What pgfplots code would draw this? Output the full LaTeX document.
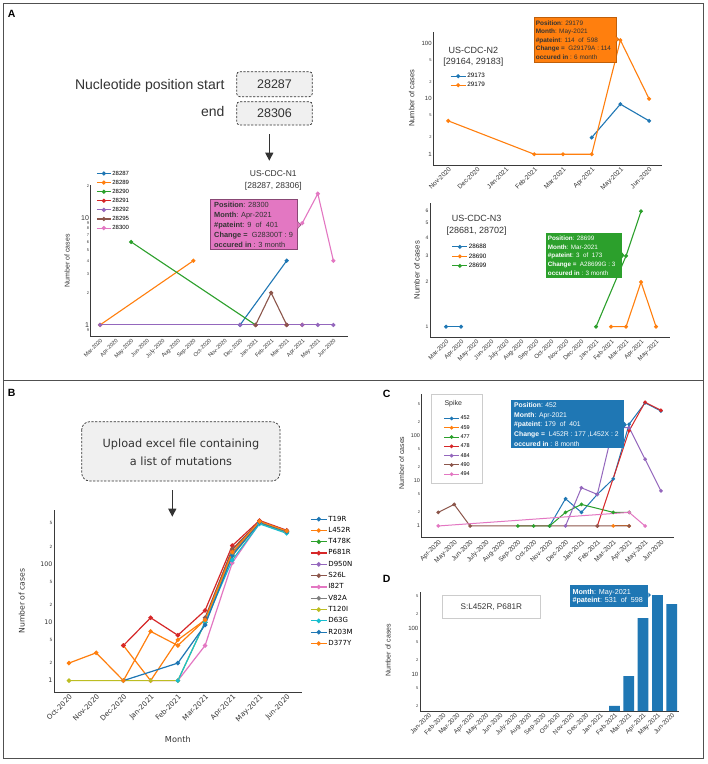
\documentclass[border=0pt]{standalone}
\usepackage{fontspec}
\setmainfont{Liberation Sans}
\newfontfamily\dejavu{DejaVu Sans}
\usepackage{pgfplots}
\pgfplotsset{compat=1.18}
\usetikzlibrary{arrows.meta}
\definecolor{tb}{HTML}{1F77B4}
\definecolor{to}{HTML}{FF7F0E}
\definecolor{tg}{HTML}{2CA02C}
\definecolor{tr}{HTML}{D62728}
\definecolor{tp}{HTML}{9467BD}
\definecolor{tbr}{HTML}{8C564B}
\definecolor{tpk}{HTML}{E377C2}
\definecolor{tgy}{HTML}{7F7F7F}
\definecolor{tol}{HTML}{BCBD22}
\definecolor{tc}{HTML}{17BECF}
\definecolor{framec}{HTML}{505050}
\definecolor{spinec}{HTML}{3A3A3A}
\definecolor{boxfill}{HTML}{F0F0F0}
\definecolor{txtdark}{HTML}{333333}
\definecolor{legframe}{HTML}{CCCCCC}
\newcommand{\fs}[2]{\fontsize{#1}{#2}\selectfont}
\begin{document}
\begin{tikzpicture}
\useasboundingbox (0pt,0pt) rectangle (708pt,-764pt);
\fill[white] (0pt,0pt) rectangle (708pt,-764pt);
% frames
\draw[framec, line width=1pt] (3.3pt,-3.3pt) rectangle (703.8pt,-758.5pt);
\draw[framec, line width=1pt] (3.3pt,-380.8pt) -- (703.8pt,-380.8pt);
% panel letters
\node[font=\bfseries\fs{10.5}{10.5}] at (11.7pt,-14pt) {A};
\node[font=\bfseries\fs{10.5}{10.5}] at (11.7pt,-393.3pt) {B};
\node[font=\bfseries\fs{10.5}{10.5}] at (386.7pt,-394pt) {C};
\node[font=\bfseries\fs{10.5}{10.5}] at (386.7pt,-579.3pt) {D};

% ===== Panel A header =====
\node[anchor=east, font=\fs{14}{14}, text=txtdark] at (228pt,-86pt) {Nucleotide position start};
\node[anchor=east, font=\fs{14}{14}, text=txtdark] at (228pt,-111pt) {end};
\draw[dash pattern=on 2.2pt off 1.5pt, rounded corners=3pt, fill=boxfill, draw=txtdark, line width=0.7pt] (236.7pt,-71.7pt) rectangle (312.3pt,-96.7pt);
\draw[dash pattern=on 2.2pt off 1.5pt, rounded corners=3pt, fill=boxfill, draw=txtdark, line width=0.7pt] (236.7pt,-101.7pt) rectangle (312.3pt,-125pt);
\node[font=\fs{12.5}{12.5}, text=txtdark] at (274.5pt,-84.2pt) {28287};
\node[font=\fs{12.5}{12.5}, text=txtdark] at (274.5pt,-113.3pt) {28306};
\draw[-{Triangle[length=8pt,width=8pt]}, line width=1.3pt, txtdark] (269.3pt,-134.3pt) -- (269.3pt,-160.7pt);

% ===== A: US-CDC-N1 =====
\begin{axis}[scale only axis, anchor=south west, ymode=log,
  axis x line*=bottom, axis y line*=left,
  axis line style={-, spinec, line width=0.7pt},
  major tick length=0pt, minor tick length=0pt, clip=false,
  xticklabel style={rotate=45, anchor=north east, inner sep=1pt, text=txtdark, font=\fs{5.5}{5.5}},
  yticklabel style={inner sep=1.5pt, text=txtdark, font=\fs{7}{7}},
  at={(90.7pt,-336.7pt)}, width=257.3pt, height=151.7pt,
  xmin=-0.6, xmax=15.94, ymin=0.776, ymax=20.5,
  xtick={0,...,15},
  xticklabels={Mar-2020,Apr-2020,May-2020,Jun-2020,July-2020,Aug-2020,Sep-2020,Oct-2020,Nov-2020,Dec-2020,Jan-2021,Feb-2021,Mar-2021,Apr-2021,May-2021,Jun-2020},
  ytick={1,10}, yticklabels={1,10},
  extra y ticks={0.9,2,3,4,5,6,7,8,9,20}, extra y tick labels={9,2,3,4,5,6,7,8,9,2},
  extra y tick style={yticklabel style={font=\fs{4}{4}}},
  ylabel={Number of cases}, ylabel style={at={(axis description cs:-0.092,0.5)}, anchor=center, text=txtdark, font=\fs{7}{7}},
  every axis plot/.append style={mark=*, line width=1.1pt, mark size=1.5pt},
  legend cell align=left,
  legend image code/.code={\draw[mark repeat=2,mark phase=2,#1] plot coordinates {(0pt,0pt) (7pt,0pt) (14pt,0pt)};},
  legend style={draw=none, fill=none, at={(0.021,1.102)}, anchor=north west, inner sep=0pt,
    font=\fs{6}{6}, row sep=1.6pt, nodes={inner sep=1pt, text height=4.3pt, text depth=1.2pt}},
  legend entries={28287,28289,28290,28291,28292,28295,28300},
]
\addplot[color=tb] coordinates {(9,1) (12,4)};
\addplot[color=to] coordinates {(0,1) (6,4)};
\addplot[color=tg] coordinates {(2,6) (10,1)};
\addplot[color=tr] coordinates {(10,1) (12,1) (13,1)};
\addplot[color=tp] coordinates {(0,1) (9,1) (10,1) (12,1) (13,1) (14,1) (15,1)};
\addplot[color=tbr] coordinates {(10,1) (11,2) (12,1)};
\addplot[color=tpk] coordinates {(13,9) (14,17) (15,4)};
\end{axis}
\node[align=center, font=\fs{8.5}{12}, text=txtdark] at (273.3pt,-180pt) {US-CDC-N1\\{[28287, 28306]}};
\filldraw[fill=tpk, draw=tpk!60!black, line width=0.4pt] (210pt,-199pt) rectangle (297.3pt,-249.5pt);
\filldraw[fill=tpk, draw=tpk!60!black, line width=0.4pt] (297.3pt,-221pt) -- (301pt,-225pt) -- (297.3pt,-229pt);
\node[anchor=north west, inner sep=0pt, align=left, font=\fs{7.4}{10}, text=txtdark] at (214pt,-201.6pt)
 {\textbf{Position}: 28300\\\textbf{Month}: Apr-2021\\\textbf{\#pateint}: 9~~of~~401\\\textbf{Change =}~~G28300T : 9\\\textbf{occured in} : 3 month};

% ===== A: US-CDC-N2 =====
\begin{axis}[scale only axis, anchor=south west, ymode=log,
  axis x line*=bottom, axis y line*=left,
  axis line style={-, spinec, line width=0.7pt},
  major tick length=0pt, minor tick length=0pt, clip=false,
  xticklabel style={rotate=45, anchor=north east, inner sep=1pt, text=txtdark, font=\fs{6.5}{6.5}},
  yticklabel style={inner sep=1.5pt, text=txtdark, font=\fs{6}{6}},
  at={(433.3pt,-165pt)}, width=228.4pt, height=133.3pt,
  xmin=-0.52, xmax=7.44, ymin=0.64, ymax=162,
  xtick={0,...,7},
  xticklabels={Nov-2020,Dec-2020,Jan-2021,Feb-2021,Mar-2021,Apr-2021,May-2021,Jun-2020},
  ytick={1,10,100}, yticklabels={1,10,100},
  extra y ticks={2,5,20,50}, extra y tick labels={2,5,2,5},
  extra y tick style={yticklabel style={font=\fs{4}{4}}},
  ylabel={Number of cases}, ylabel style={at={(axis description cs:-0.095,0.5)}, anchor=center, text=txtdark, font=\fs{7.5}{7.5}},
  every axis plot/.append style={mark=*, line width=1.1pt, mark size=1.4pt},
  legend cell align=left,
  legend image code/.code={\draw[mark repeat=2,mark phase=2,#1] plot coordinates {(0pt,0pt) (7.5pt,0pt) (15pt,0pt)};},
  legend style={draw=none, fill=none, at={(0.073,0.697)}, anchor=north west, inner sep=0pt,
    font=\fs{6.3}{6.3}, row sep=1.2pt, nodes={inner sep=1pt, text height=4.5pt, text depth=1.3pt}},
  legend entries={29173,29179},
]
\addplot[color=tb] coordinates {(5,2) (6,8) (7,4)};
\addplot[color=to] coordinates {(0,4) (3,1) (4,1) (5,1) (6,114) (7,10)};
\end{axis}
\node[align=center, font=\fs{9}{11}, text=txtdark] at (473.3pt,-57pt) {US-CDC-N2\\{[29164, 29183]}};
\filldraw[fill=to, draw=to!75!black, line width=0.4pt] (534pt,-17.3pt) rectangle (615.7pt,-61.7pt);
\filldraw[fill=to, draw=to!75!black, line width=0.4pt] (615.7pt,-36pt) -- (618.8pt,-39.3pt) -- (615.7pt,-42.6pt);
\node[anchor=north west, inner sep=0pt, align=left, font=\fs{6.4}{8.5}, text=txtdark] at (535.7pt,-20.4pt)
 {\textbf{Position}: 29179\\\textbf{Month}: May-2021\\\textbf{\#pateint}: 114~~of~~598\\\textbf{Change =}~~G29179A : 114\\\textbf{occured in} : 6 month};

% ===== A: US-CDC-N3 =====
\begin{axis}[scale only axis, anchor=south west, ymode=log,
  axis x line*=bottom, axis y line*=left,
  axis line style={-, spinec, line width=0.7pt},
  major tick length=0pt, minor tick length=0pt, clip=false,
  xticklabel style={rotate=45, anchor=north east, inner sep=1pt, text=txtdark, font=\fs{6}{6}},
  yticklabel style={inner sep=1.5pt, text=txtdark, font=\fs{5}{5}},
  at={(430pt,-337.7pt)}, width=240pt, height=135pt,
  xmin=-1.07, xmax=14.93, ymin=0.843, ymax=6.85,
  xtick={0,...,14},
  xticklabels={Mar-2020,Apr-2020,May-2020,Jun-2020,July-2020,Aug-2020,Sep-2020,Oct-2020,Nov-2020,Dec-2020,Jan-2021,Feb-2021,Mar-2021,Apr-2021,May-2021},
  ytick={1,2,3,4,5,6}, yticklabels={1,2,3,4,5,6},
  ylabel={Number of cases}, ylabel style={at={(axis description cs:-0.055,0.5)}, anchor=center, text=txtdark, font=\fs{7.7}{7.7}},
  every axis plot/.append style={mark=*, line width=1.1pt, mark size=1.4pt},
  legend cell align=left,
  legend image code/.code={\draw[mark repeat=2,mark phase=2,#1] plot coordinates {(0pt,0pt) (7.5pt,0pt) (15pt,0pt)};},
  legend style={draw=none, fill=none, at={(0.090,0.703)}, anchor=north west, inner sep=0pt,
    font=\fs{6.3}{6.3}, row sep=1.7pt, nodes={inner sep=1pt, text height=4.5pt, text depth=1.3pt}},
  legend entries={28688,28690,28699},
]
\addplot[color=tb] coordinates {(0,1) (1,1)};
\addplot[color=to] coordinates {(11,1) (12,1) (13,2) (14,1)};
\addplot[color=tg] coordinates {(10,1) (12,3) (13,6)};
\end{axis}
\node[align=center, font=\fs{9}{11.7}, text=txtdark] at (476.7pt,-225pt) {US-CDC-N3\\{[28681, 28702]}};
\fill[tg] (546pt,-233.3pt) rectangle (621.7pt,-277.7pt);
\fill[tg] (621.7pt,-252pt) -- (624.5pt,-255.3pt) -- (621.7pt,-258.6pt);
\node[anchor=north west, inner sep=0pt, align=left, font=\fs{6.3}{8.6}, text=white] at (547.7pt,-236pt)
 {\textbf{Position}: 28699\\\textbf{Month}: Mar-2021\\\textbf{\#pateint}: 3~~of~~173\\\textbf{Change =}~~A28699G : 3\\\textbf{occured in} : 3 month};

% ===== Panel B header =====
\draw[dash pattern=on 2.2pt off 1.5pt, rounded corners=8pt, fill=boxfill, draw=txtdark, line width=0.7pt] (81.7pt,-421.7pt) rectangle (280pt,-481pt);
\node[align=center, font=\dejavu\fs{11.3}{17.7}, text=txtdark] at (181pt,-452pt) {Upload excel file containing\\a list of mutations};
\draw[-{Triangle[length=8pt,width=8pt]}, line width=1.3pt, txtdark] (172.3pt,-490pt) -- (172.3pt,-516.7pt);

% ===== B chart =====
\begin{axis}[scale only axis, anchor=south west, ymode=log,
  axis x line*=bottom, axis y line*=left,
  axis line style={-, spinec, line width=0.7pt},
  major tick length=0pt, minor tick length=0pt, clip=false,
  xticklabel style={rotate=45, anchor=north east, inner sep=1pt, text=txtdark, font=\dejavu\fs{7}{7}},
  yticklabel style={inner sep=1.5pt, text=txtdark, font=\dejavu\fs{6.3}{6.3}},
  at={(54pt,-692.3pt)}, width=247.7pt, height=182.3pt,
  xmin=-0.55, xmax=8.55, ymin=0.63, ymax=847,
  xtick={0,...,8},
  xticklabels={Oct-2020,Nov-2020,Dec-2020,Jan-2021,Feb-2021,Mar-2021,Apr-2021,May-2021,Jun-2020},
  ytick={1,10,100}, yticklabels={1,10,100},
  extra y ticks={2,5,20,50,200,500}, extra y tick labels={2,5,2,5,2,5},
  extra y tick style={yticklabel style={font=\dejavu\fs{4.3}{4.3}}},
  ylabel={Number of cases}, ylabel style={at={(axis description cs:-0.13,0.5)}, anchor=center, text=txtdark, font=\dejavu\fs{7.7}{7.7}},
  xlabel={Month}, xlabel style={at={(axis description cs:0.5,-0.256)}, anchor=center, font=\dejavu\fs{8.2}{8.2}, text=txtdark},
  every axis plot/.append style={mark=*, line width=1.2pt, mark size=1.6pt},
  legend cell align=left,
  legend image code/.code={\draw[mark repeat=2,mark phase=2,#1] plot coordinates {(0pt,0pt) (8pt,0pt) (16pt,0pt)};},
  legend style={draw=none, fill=none, at={(1.0335,0.974)}, anchor=north west, inner sep=0pt,
    font=\dejavu\fs{7}{7}, row sep=2.8pt, nodes={inner sep=1pt, text height=5.1pt, text depth=1.4pt}},
  legend entries={T19R,L452R,T478K,P681R,D950N,S26L,I82T,V82A,T120I,D63G,R203M,D377Y},
]
\addplot[color=tb] coordinates {(5,10) (6,150) (7,520) (8,360)};
\addplot[color=to] coordinates {(2,4) (3,1) (4,5) (5,11) (6,177) (7,531) (8,370)};
\addplot[color=tg] coordinates {(5,10) (6,150) (7,520) (8,360)};
\addplot[color=tr] coordinates {(2,4) (3,12) (4,6) (5,16) (6,207) (7,560) (8,380)};
\addplot[color=tp] coordinates {(5,10) (6,160) (7,530) (8,365)};
\addplot[color=tbr] coordinates {(5,12) (6,180) (7,540) (8,370)};
\addplot[color=tpk] coordinates {(3,1) (4,1) (5,4) (6,105) (7,500) (8,350)};
\addplot[color=tgy] coordinates {(5,10) (6,150) (7,520) (8,355)};
\addplot[color=tol] coordinates {(0,1) (2,1) (3,1) (4,1) (5,10) (6,140) (7,510) (8,350)};
\addplot[color=tc] coordinates {(4,1) (5,10) (6,117) (7,490) (8,337)};
\addplot[color=tb] coordinates {(2,1) (4,2) (5,9) (6,140) (7,520) (8,360)};
\addplot[color=to] coordinates {(0,2) (1,3) (2,1) (3,7) (4,4) (5,11) (6,160) (7,540) (8,370)};
\end{axis}

% ===== C chart =====
\draw[legframe, line width=0.8pt] (431pt,-394.3pt) rectangle (482.7pt,-483.3pt);
\node[font=\fs{7}{7}, text=txtdark] at (453.3pt,-403.3pt) {Spike};
\begin{axis}[scale only axis, anchor=south west, ymode=log,
  axis x line*=bottom, axis y line*=left,
  axis line style={-, spinec, line width=0.7pt},
  major tick length=0pt, minor tick length=0pt, clip=false,
  xticklabel style={rotate=45, anchor=north east, inner sep=1pt, text=txtdark, font=\fs{6.5}{6.5}},
  yticklabel style={inner sep=1.5pt, text=txtdark, font=\fs{5.5}{5.5}},
  at={(421.7pt,-537.7pt)}, width=252.3pt, height=143.7pt,
  xmin=-1.04, xmax=14.82, ymin=0.55, ymax=832,
  xtick={0,...,14},
  xticklabels={Apr-2020,May-2020,Jun-2020,July-2020,Aug-2020,Sep-2020,Oct-2020,Nov-2020,Dec-2020,Jan-2021,Feb-2021,Mar-2021,Apr-2021,May-2021,Jun-2020},
  ytick={1,10,100}, yticklabels={1,10,100},
  extra y ticks={2,5,20,50,200,500}, extra y tick labels={2,5,2,5,2,5},
  extra y tick style={yticklabel style={font=\fs{4}{4}}},
  ylabel={Number of cases}, ylabel style={at={(axis description cs:-0.08,0.52)}, anchor=center, text=txtdark, font=\fs{7}{7}},
  every axis plot/.append style={mark=*, line width=1pt, mark size=1.3pt},
  legend cell align=left,
  legend image code/.code={\draw[mark repeat=2,mark phase=2,#1] plot coordinates {(0pt,0pt) (7.5pt,0pt) (15pt,0pt)};},
  legend style={draw=none, fill=none, at={(0.086,0.856)}, anchor=north west, inner sep=0pt,
    font=\fs{5.5}{5.5}, row sep=2.2pt, nodes={inner sep=1pt, text height=4pt, text depth=1.1pt}},
  legend entries={452,459,477,478,484,490,494},
]
\addplot[color=tb] coordinates {(7,1) (8,4) (9,2) (10,5) (11,11) (12,179) (13,530) (14,350)};
\addplot[color=to] coordinates {(11,1) (12,1)};
\addplot[color=tg] coordinates {(5,1) (6,1) (7,1) (8,2) (9,3) (11,2) (12,2)};
\addplot[color=tr] coordinates {(10,1) (12,128) (13,546) (14,363)};
\addplot[color=tp] coordinates {(8,1) (9,7) (10,5) (11,150) (12,150) (13,30) (14,6)};
\addplot[color=tbr] coordinates {(0,2) (1,3) (2,1) (10,1) (12,1)};
\addplot[color=tpk] coordinates {(0,1) (12,2) (13,1)};
\end{axis}
\fill[tb] (511pt,-400pt) rectangle (624pt,-447.7pt);
\fill[tb] (624pt,-421.5pt) -- (626.8pt,-424.7pt) -- (624pt,-427.9pt);
\node[anchor=north west, inner sep=0pt, align=left, font=\fs{6.8}{9.6}, text=white] at (514pt,-402.5pt)
 {\textbf{Position}: 452\\\textbf{Month}: Apr-2021\\\textbf{\#pateint}: 179~~of~~401\\\textbf{Change =}~~L452R : 177 ,L452X : 2\\\textbf{occured in} : 8 month};

% ===== D chart =====
\draw[legframe, line width=0.8pt] (442.7pt,-595pt) rectangle (540pt,-618.3pt);
\node[font=\fs{8.2}{8.2}, text=txtdark] at (491.3pt,-606.7pt) {S:L452R, P681R};
\begin{axis}[scale only axis, anchor=south west, ymode=log,
  axis x line*=bottom, axis y line*=left,
  axis line style={-, spinec, line width=0.7pt},
  major tick length=0pt, minor tick length=0pt, clip=false,
  xticklabel style={rotate=45, anchor=north east, inner sep=1pt, text=txtdark, font=\fs{6.3}{6.3}},
  yticklabel style={inner sep=1.5pt, text=txtdark, font=\fs{6}{6}},
  at={(420pt,-711pt)}, width=259.3pt, height=119pt,
  xmin=-0.59, xmax=17.53, ymin=1.55, ymax=622, log origin y=infty,
  xtick={0,...,17},
  xticklabels={Jan-2020,Feb-2020,Mar-2020,Apr-2020,May-2020,Jun-2020,July-2020,Aug-2020,Sep-2020,Oct-2020,Nov-2020,Dec-2020,Jan-2021,Feb-2021,Mar-2021,Apr-2021,May-2021,Jun-2020},
  ytick={10,100}, yticklabels={10,100},
  extra y ticks={2,5,20,50,200,500}, extra y tick labels={2,5,2,5,2,5},
  extra y tick style={yticklabel style={font=\fs{4}{4}}},
  ylabel={Number of cases}, ylabel style={at={(axis description cs:-0.123,0.51)}, anchor=center, text=txtdark, font=\fs{7}{7}},
]
\addplot[ybar, bar width=10.7pt, fill=tb, draw=none, mark=none] coordinates {(13,2) (14,9) (15,166) (16,531) (17,340)};
\end{axis}
\fill[tb] (570pt,-585pt) rectangle (648.3pt,-606.7pt);
\fill[tb] (648.3pt,-592.5pt) -- (651pt,-595pt) -- (648.3pt,-597.5pt);
\node[anchor=north west, inner sep=0pt, align=left, font=\fs{7.2}{8.4}, text=white] at (572.3pt,-589pt)
 {\textbf{Month}: May-2021\\\textbf{\#pateint}: 531~~of~~598};
\end{tikzpicture}
\end{document}
